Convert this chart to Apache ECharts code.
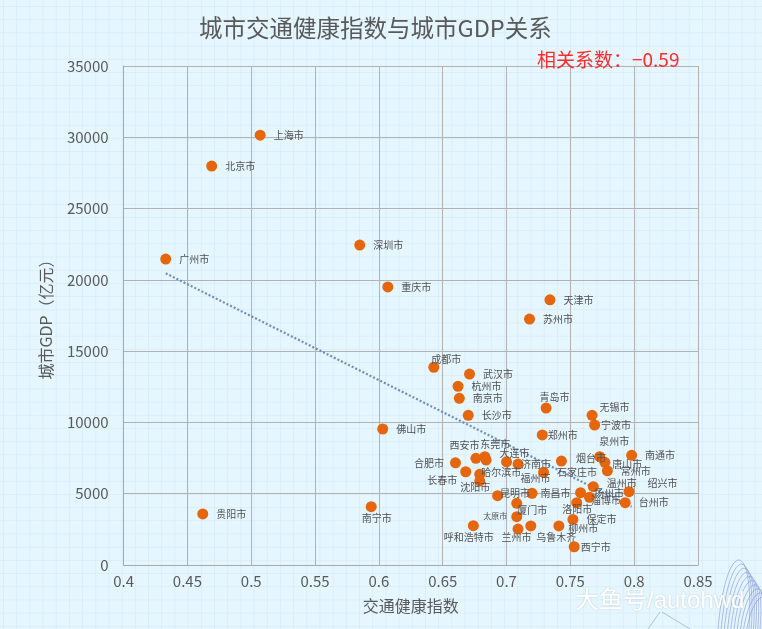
<!DOCTYPE html>
<html>
<head>
<meta charset="utf-8">
<script src="https://cdn.jsdelivr.net/npm/echarts@6/dist/echarts.min.js"></script>
<style>
  html, body { margin: 0; padding: 0; }
  body {
    width: 762px; height: 629px; overflow: hidden;
    background-color: #e6f6fe;
    background-image:
      linear-gradient(#d9eef8 1px, transparent 1px),
      linear-gradient(90deg, #d9eef8 1px, transparent 1px);
    background-size: 13.2px 13.2px;
    background-position: 3px 6px;
  }
  #chart { width: 762px; height: 629px; }
</style>
</head>
<body>
<div id="chart"></div>
<script>
// ---- data ----
const cities = ['上海市','北京市','广州市','深圳市','重庆市','天津市','苏州市','成都市','武汉市','杭州市',
  '南京市','长沙市','青岛市','无锡市','宁波市','佛山市','郑州市','南通市','合肥市','长春市',
  '西安市','东莞市','大连市','哈尔滨市','沈阳市','济南市','福州市','烟台市','泉州市','唐山市',
  '常州市','石家庄市','昆明市','厦门市','太原市','呼和浩特市','兰州市','南昌市','扬州市','温州市',
  '淄博市','洛阳市','保定市','乌鲁木齐','柳州市','西宁市','绍兴市','台州市','贵阳市','南宁市'];
const trafficIndex = [0.507,0.469,0.433,0.585,0.607,0.734,0.718,0.643,0.671,0.662,
  0.663,0.670,0.731,0.767,0.769,0.603,0.728,0.798,0.660,0.668,
  0.676,0.683,0.684,0.679,0.679,0.700,0.709,0.743,0.773,0.777,
  0.779,0.729,0.693,0.708,0.708,0.674,0.709,0.720,0.758,0.768,
  0.765,0.755,0.752,0.719,0.741,0.753,0.796,0.793,0.462,0.594];
const cityGDP = [30150,27980,21460,22440,19500,18600,17250,13870,13390,12530,
  11690,10500,11010,10500,9820,9540,9120,7690,7170,6540,
  7480,7600,7360,6360,5890,7240,7080,7290,7600,7200,
  6610,6500,4860,4330,3390,2760,2520,5030,5070,5490,
  4750,4370,3200,2740,2740,1280,5140,4370,3580,4090];
const trendX = [0.433, 0.798];
const trendY = [20460, 4090];
const xTicks = [0.4,0.45,0.5,0.55,0.6,0.65,0.7,0.75,0.8,0.85];
const yTicks = [0,5000,10000,15000,20000,25000,30000,35000];
const correlation = '−0.59';

// ---- label placement tweaks (style only) ----
const labelOffset = {
  '成都市':[-16,-8], '青岛市':[-20,-11], '无锡市':[-6,-8], '宁波市':[-7,0], '郑州市':[-8,0],
  '合肥市':[-55,0], '长春市':[-52,8], '西安市':[-40,-13], '东莞市':[-18,-12], '大连市':[0,-7],
  '济南市':[1,2], '福州市':[-11,14], '唐山市':[-6,2], '哈尔滨市':[-12,-2], '沈阳市':[-33,6],
  '烟台市':[1,-3], '泉州市':[-14,-15], '昆明市':[-11,-3], '南昌市':[-5,0], '厦门市':[-13,7],
  '太原市':[-47,-1], '呼和浩特市':[-43,12], '兰州市':[-30,8], '乌鲁木齐':[-8,11], '柳州市':[-4,2],
  '洛阳市':[-28,7], '淄博市':[-12,3], '温州市':[0,-4], '绍兴市':[5,-9], '西宁市':[-7,0],
  '南宁市':[-23,12]
};
const smallLabel = { '太原市': 8 };

const pts = cities.map((c, i) => {
  const item = { name: c, value: [trafficIndex[i], cityGDP[i]] };
  if (smallLabel[c]) item.label = { fontSize: smallLabel[c] };
  return item;
});

const FONT = '"Noto Sans CJK SC", "Noto Sans", sans-serif';
const chart = echarts.init(document.getElementById('chart'), null, { renderer: 'canvas' });

// decorative arches (bottom-right)
const deco = [];
for (let i = 0; i < 10; i++) {
  const ax = 741 + i * 2.2, ay = 567 + i * 5.5;
  const lx = 718 + i * 3.2;
  deco.push({
    type: 'bezierCurve',
    shape: { x1: lx, y1: 629, x2: ax + 8, y2: 629, cpx1: lx + 8, cpy1: ay - 30, cpx2: ax + 14, cpy2: ay - 30 },
    style: { stroke: 'rgba(120,140,215,0.55)', lineWidth: 1, fill: null },
    silent: true, z: -1
  });
}
deco.push({ type: 'line', shape: { x1: 660, y1: 612, x2: 648, y2: 629 }, style: { stroke: 'rgba(120,140,215,0.5)', lineWidth: 1 }, silent: true });
deco.push({ type: 'line', shape: { x1: 662, y1: 612, x2: 690, y2: 629 }, style: { stroke: 'rgba(120,140,215,0.5)', lineWidth: 1 }, silent: true });

chart.setOption({
  animation: false,
  backgroundColor: 'transparent',
  title: [
    { text: '城市交通健康指数与城市GDP关系', left: 194, top: 11,
      textStyle: { fontFamily: FONT, fontSize: 23.5, fontWeight: 'normal', color: '#595959' } },
    { text: '相关系数：' + correlation, left: 532, top: 45,
      textStyle: { fontFamily: FONT, fontSize: 19, fontWeight: 'normal', color: '#ff2b2b' } }
  ],
  grid: { left: 123.6, right: 64, top: 66, bottom: 64, containLabel: false },
  xAxis: {
    type: 'value',
    min: xTicks[0], max: xTicks[xTicks.length - 1], interval: xTicks[1] - xTicks[0],
    name: '交通健康指数', nameLocation: 'middle', nameGap: 33,
    nameTextStyle: { fontFamily: FONT, fontSize: 16, color: '#595959' },
    axisLine: { show: true, lineStyle: { color: '#a8a8a8', width: 1 } },
    axisTick: { show: false },
    axisLabel: { fontFamily: FONT, fontSize: 15, color: '#595959', margin: 9,
      formatter: v => String(Math.round(v * 100) / 100) },
    splitLine: { show: true, lineStyle: { color: '#b2b2b2', width: 1 } }
  },
  yAxis: {
    type: 'value',
    min: yTicks[0], max: yTicks[yTicks.length - 1], interval: yTicks[1] - yTicks[0],
    name: '城市GDP（亿元）', nameLocation: 'middle', nameGap: 70,
    nameTextStyle: { fontFamily: FONT, fontSize: 16, color: '#595959' },
    axisLine: { show: true, lineStyle: { color: '#a8a8a8', width: 1 } },
    axisTick: { show: false },
    axisLabel: { fontFamily: FONT, fontSize: 15, color: '#595959', margin: 15,
      formatter: v => String(Math.round(v)) },
    splitLine: { show: true, lineStyle: { color: '#b2b2b2', width: 1 } }
  },
  series: [
    {
      type: 'line',
      data: trendX.map((x, i) => [x, trendY[i]]),
      showSymbol: false, symbol: 'none',
      lineStyle: { color: '#6e8dbf', width: 2.2, type: [2, 2] },
      z: 2, silent: true
    },
    {
      type: 'scatter',
      data: pts,
      symbolSize: 11,
      itemStyle: { color: '#e5660c', opacity: 1 },
      label: {
        show: true, position: 'right', distance: 8,
        formatter: '{b}', fontFamily: FONT, fontSize: 10, color: '#505050'
      },
      labelLayout: function (p) {
        const o = labelOffset[cities[p.dataIndex]];
        return o ? { dx: o[0], dy: o[1], hideOverlap: false } : { hideOverlap: false };
      },
      z: 3
    }
  ],
  graphic: deco.concat([
    { type: 'text', left: 575, top: 589, silent: true, z: 10,
      style: { text: '大鱼号/autohwd', fontFamily: '"Liberation Sans", "Noto Sans CJK SC", sans-serif',
        fontSize: 24, fill: '#ffffff', textShadowColor: 'rgba(0,0,0,0.18)', textShadowBlur: 2 } }
  ])
});
</script>
</body>
</html>
